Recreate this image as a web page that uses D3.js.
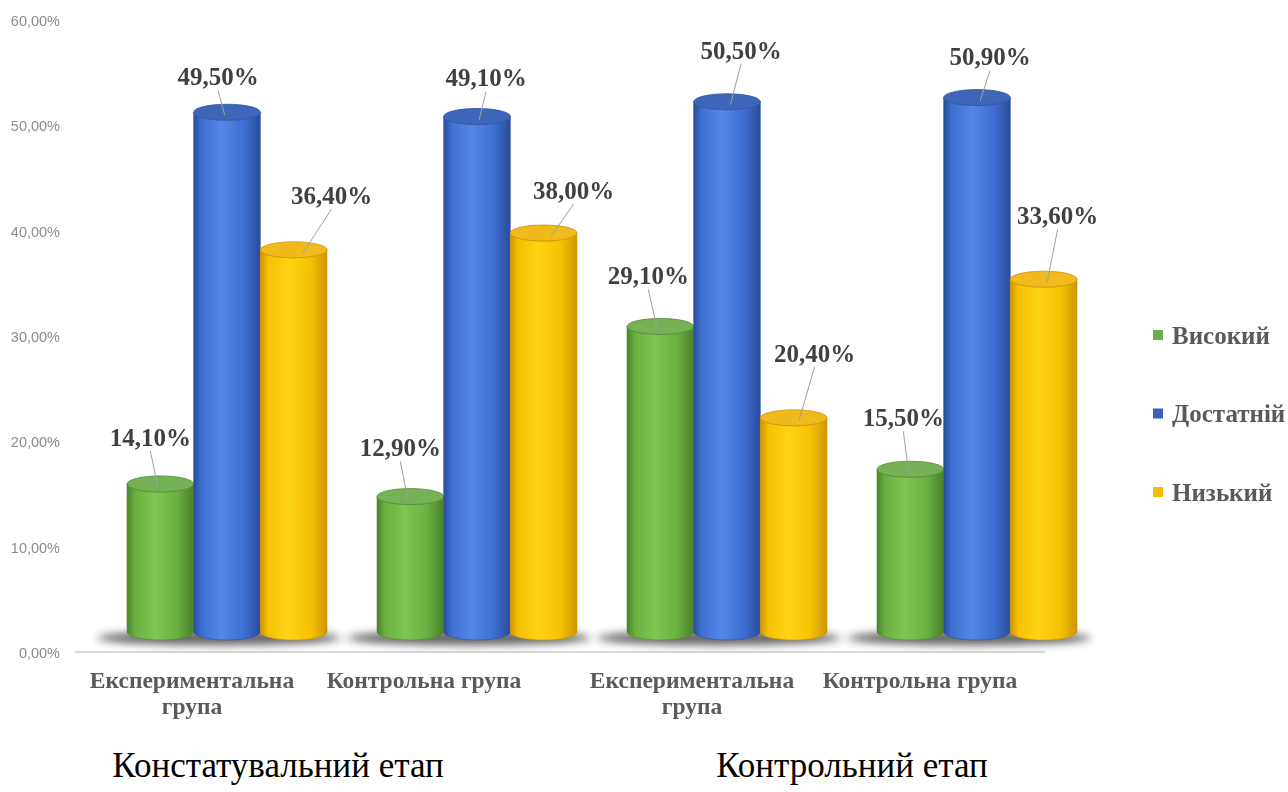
<!DOCTYPE html>
<html>
<head>
<meta charset="utf-8">
<script src="https://cdn.jsdelivr.net/npm/d3@7"></script>
<style>
  body { margin: 0; background: #fff; }
  svg { display: block; }
</style>
</head>
<body>
<svg id="chart" width="1288" height="792"></svg>
<script>
// ---- data ----
const groupKeys = ["const-exp", "const-ctrl", "ctrl-exp", "ctrl-ctrl"];
const groupLabels = [
  ["Експериментальна", "група"],
  ["Контрольна група"],
  ["Експериментальна", "група"],
  ["Контрольна група"]
];
const stages = ["Констатувальний етап", "Контрольний етап"];
const seriesNames = ["Високий", "Достатній", "Низький"];
const highValues = [14.1, 12.9, 29.1, 15.5];
const sufficientValues = [49.5, 49.1, 50.5, 50.9];
const lowValues = [36.4, 38.0, 20.4, 33.6];
const axisTicks = [0, 10, 20, 30, 40, 50, 60];

// ---- layout: data label offsets from each cylinder top [series][group] ----
const labelDx = [
  [-10, -10, -12, -7],
  [-9, 9, 14, 13],
  [38, 30, 21, 14]
];
const labelDy = [
  [-47, -49, -51, -52],
  [-36, -39, -52, -41],
  [-55, -43, -65, -64]
];

const SERIF = '"Liberation Serif", "Times New Roman", Tinos, serif';
const SANS = '"Liberation Sans", Arial, sans-serif';

const seriesValues = [highValues, sufficientValues, lowValues];
const palette = {
  "Високий":   { dark: "#4a822b", light: "#7fc653", mid: "#68b040", top: "#74b255", edge: "#4f8a33", key: "#6aad4a" },
  "Достатній": { dark: "#2a4c99", light: "#5488e6", mid: "#3d6fd2", top: "#3e66b8", edge: "#2f529e", key: "#3c62b5" },
  "Низький":   { dark: "#cf9600", light: "#ffd416", mid: "#f6c100", top: "#f0b91c", edge: "#cc9400", key: "#f0c000" }
};

const svg = d3.select("#chart");
const defs = svg.append("defs");

// ---- scales ----
const yAxis = d3.scaleLinear().domain([0, 60]).range([653, 21]);
const yBar = d3.scaleLinear().domain([0, 60]).range([632, 2]);
const xGroup = d3.scaleBand().domain(groupKeys).range([102, 1102]).padding(0);
const xSeries = d3.scaleBand().domain(seriesNames).range([-100, 100]).padding(0);
// category captions sit a little left of their groups (perspective of the 3D floor)
const xLabel = d3.scaleOrdinal().domain(groupKeys).range([192, 424, 692, 920]);
const xStage = d3.scalePoint().domain(stages).range([278, 852]);
const yLegend = d3.scalePoint().domain(seriesNames).range([335, 492]);

const fmt = v => v.toFixed(2).replace(".", ",") + "%";

// ---- gradients ----
seriesNames.forEach((s, i) => {
  const c = palette[s];
  const g = defs.append("linearGradient")
    .attr("id", "body" + i).attr("x1", 0).attr("x2", 1).attr("y1", 0).attr("y2", 0);
  g.append("stop").attr("offset", "0%").attr("stop-color", c.dark);
  g.append("stop").attr("offset", "12%").attr("stop-color", c.mid);
  g.append("stop").attr("offset", "42%").attr("stop-color", c.light);
  g.append("stop").attr("offset", "75%").attr("stop-color", c.mid);
  g.append("stop").attr("offset", "100%").attr("stop-color", c.dark);
});
const blur = defs.append("filter").attr("id", "shadowBlur")
  .attr("x", "-20%").attr("y", "-200%").attr("width", "140%").attr("height", "500%");
blur.append("feGaussianBlur").attr("stdDeviation", 4);
const soft = defs.append("filter").attr("id", "soft");
soft.append("feGaussianBlur").attr("stdDeviation", 0.35);

// ---- axis tick labels ----
svg.append("g").selectAll("text").data(axisTicks).join("text")
  .attr("x", 60).attr("y", d => yAxis(d)).attr("dy", "0.35em")
  .attr("text-anchor", "end")
  .style("font-family", SANS).style("font-size", "14.5px")
  .attr("fill", "#8c8c8c")
  .attr("filter", "url(#soft)")
  .text(d => d.toFixed(2).replace(".", ",") + "%");

// ---- floor line ----
svg.append("line")
  .attr("x1", 75).attr("x2", 1045).attr("y1", 652).attr("y2", 652)
  .attr("stroke", "#dcdcdc").attr("stroke-width", 2);

// ---- shadows under groups ----
svg.append("g").selectAll("ellipse").data(groupKeys).join("ellipse")
  .attr("cx", d => xGroup(d) + xGroup.bandwidth() / 2 - 8)
  .attr("cy", yBar(0) + 6)
  .attr("rx", 122).attr("ry", 7)
  .attr("fill", "#2b2b2b").attr("opacity", 0.75)
  .attr("filter", "url(#shadowBlur)");

// ---- cylinders ----
const rx = xSeries.bandwidth() / 2;
const ry = 8;
function bodyPath(cx, yTop, yBase) {
  return `M${cx - rx},${yTop} L${cx - rx},${yBase} A${rx},${ry} 0 0 0 ${cx + rx},${yBase} ` +
         `L${cx + rx},${yTop} A${rx},${ry} 0 0 1 ${cx - rx},${yTop} Z`;
}

const bars = [];
groupKeys.forEach((gk, gi) => {
  seriesNames.forEach((s, si) => {
    const cx = xGroup(gk) + xGroup.bandwidth() / 2 + xSeries(s) + rx;
    bars.push({ gk, gi, s, si, v: seriesValues[si][gi], cx });
  });
});

const barG = svg.append("g");
const cyl = barG.selectAll("g.cyl").data(bars).join("g").attr("class", "cyl");
cyl.append("path")
  .attr("d", d => bodyPath(d.cx, yBar(d.v), yBar(0)))
  .attr("fill", d => `url(#body${d.si})`)
  .attr("stroke", d => palette[d.s].edge).attr("stroke-width", 0.6);
cyl.append("ellipse")
  .attr("cx", d => d.cx).attr("cy", d => yBar(d.v))
  .attr("rx", rx).attr("ry", ry)
  .attr("fill", d => palette[d.s].top)
  .attr("stroke", d => palette[d.s].edge).attr("stroke-width", 0.8);

// ---- data labels with leader lines ----
const labG = svg.append("g");
bars.forEach(d => {
  const top = yBar(d.v);
  const lx = d.cx + labelDx[d.si][d.gi];
  const ly = top + labelDy[d.si][d.gi];
  const ex = lx + (d.cx - lx) * 0.75;
  labG.append("line")
    .attr("x1", lx).attr("y1", ly + 14)
    .attr("x2", ex).attr("y2", top + 3)
    .attr("stroke", "#a0a0a0").attr("stroke-width", 1);
  labG.append("text")
    .attr("x", lx).attr("y", ly).attr("dy", "0.35em")
    .attr("text-anchor", "middle")
    .style("font-family", SERIF).style("font-weight", "bold").style("font-size", "25px")
    .attr("fill", "#404040")
    .attr("filter", "url(#soft)")
    .text(fmt(d.v));
});

// ---- category labels ----
const catG = svg.append("g");
groupKeys.forEach((gk, gi) => {
  const t = catG.append("text")
    .attr("x", xLabel(gk)).attr("y", 688)
    .attr("text-anchor", "middle")
    .style("font-family", SERIF).style("font-weight", "bold").style("font-size", "23.5px")
    .attr("fill", "#5a5a5a")
    .attr("filter", "url(#soft)");
  groupLabels[gi].forEach((line, li) => {
    t.append("tspan").attr("x", xLabel(gk)).attr("dy", li === 0 ? 0 : 26).text(line);
  });
});

// ---- stage captions ----
svg.append("g").selectAll("text").data(stages).join("text")
  .attr("x", d => xStage(d)).attr("y", 777)
  .attr("text-anchor", "middle")
  .style("font-family", SERIF).style("font-size", "35px")
  .attr("fill", "#000")
  .text(d => d);

// ---- legend ----
const leg = svg.append("g").selectAll("g").data(seriesNames).join("g")
  .attr("transform", d => `translate(1153,${yLegend(d)})`);
leg.append("rect").attr("x", 0).attr("y", -5).attr("width", 10).attr("height", 10)
  .attr("fill", d => palette[d].key);
leg.append("text")
  .attr("x", 19).attr("y", 0).attr("dy", "0.35em")
  .style("font-family", SERIF).style("font-weight", "bold").style("font-size", "25px")
  .attr("fill", "#5a5a5a")
  .attr("filter", "url(#soft)")
  .text(d => d);
</script>
</body>
</html>
